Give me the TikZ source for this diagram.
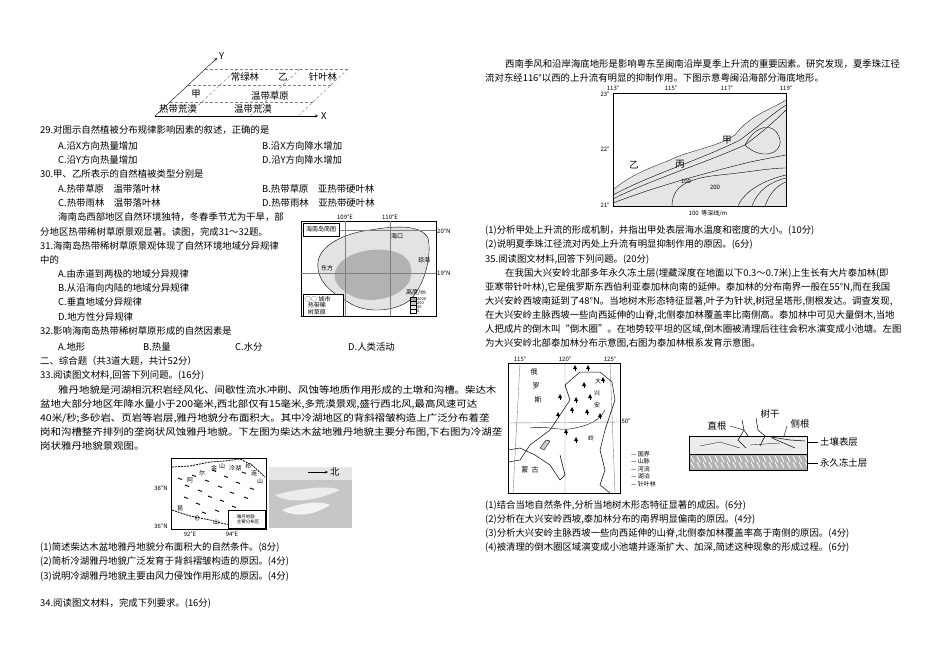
\documentclass[tikz,border=0pt]{standalone}
\usepackage{fontspec}
\usepackage{graphicx}
\setmainfont{Noto Sans CJK SC}
\newcommand{\fs}{\fontsize{9.4}{10}\selectfont}
\newcommand{\fss}{\fontsize{6}{7}\selectfont}
\newcommand{\wide}[1]{\scalebox{1.11}[1]{#1}}
\begin{document}
\begin{tikzpicture}[x=1pt,y=-1pt,
  txt/.style={anchor=west,inner sep=0,font=\fs},
  sm/.style={inner sep=0,font=\fss},
  grid/.style={densely dashed,gray,line width=0.4pt},
  frame/.style={draw,line width=0.6pt},
  cont/.style={line width=0.4pt}]
\useasboundingbox[fill=white] (0,0) rectangle (950,671);

% ---------- top grid figure ----------
\coordinate (O) at (155,116);
\coordinate (Xe) at (318,116);
\coordinate (Ye) at (217,58);
\draw[->,>=stealth] (O) -- (Xe);
\draw[->,>=stealth] (O) -- (Ye);
\node[sm,anchor=west,font=\fs] (xl) at (321,116) {X};
\node[sm,anchor=south west,font=\fs] (yl) at (219,60) {Y};
\foreach \yy in {69,85,102}{
  \pgfmathsetmacro\xs{155+(116-\yy)*1.07}
  \draw[grid] (\xs,\yy) -- ++(143,0);}
\foreach \xx in {237,300,348}{
  \draw[grid] (\xx,69) -- ++(-50,47);}
\node[sm,font=\fs] (c1) at (245,77) {常绿林};
\node[sm,font=\fs] (c2) at (283,77) {乙};
\node[sm,font=\fs] (c3) at (323,77) {针叶林};
\node[sm,font=\fs] (c4) at (196,94) {甲};
\node[sm,font=\fs] (c5) at (270,96) {温带草原};
\node[sm,font=\fs] (c6) at (178,109) {热带荒漠};
\node[sm,font=\fs] (c7) at (253,109) {温带荒漠};

% ---------- left column text ----------
\node[txt] (t1) at (40,130) {29.对图示自然植被分布规律影响因素的叙述，正确的是};
\node[txt] (t2) at (58,146) {A.沿X方向热量增加};
\node[txt] (t3) at (262,146) {B.沿X方向降水增加};
\node[txt] (t4) at (58,160) {C.沿Y方向热量增加};
\node[txt] (t5) at (262,160) {D.沿Y方向降水增加};
\node[txt] (t6) at (40,174) {30.甲、乙所表示的自然植被类型分别是};
\node[txt] (t7) at (58,189) {A.热带草原\quad 温带落叶林};
\node[txt] (t8) at (262,189) {B.热带草原\quad 亚热带硬叶林};
\node[txt] (t9) at (58,203) {C.热带雨林\quad 温带落叶林};
\node[txt] (t10) at (262,203) {D.热带雨林\quad 亚热带硬叶林};
\node[txt] (t11) at (58,217) {海南岛西部地区自然环境独特，冬春季节尤为干旱，部};
\node[txt] (t12) at (40,232) {分地区热带稀树草原景观显著。读图，完成31～32题。};
\node[txt] (t13) at (40,246) {31.海南岛热带稀树草原景观体现了自然环境地域分异规律};
\node[txt] (t14) at (40,260) {中的};
\node[txt] (t15) at (58,274) {A.由赤道到两极的地域分异规律};
\node[txt] (t16) at (58,288) {B.从沿海向内陆的地域分异规律};
\node[txt] (t17) at (58,302) {C.垂直地域分异规律};
\node[txt] (t18) at (58,317) {D.地方性分异规律};
\node[txt] (t19) at (40,331) {32.影响海南岛热带稀树草原形成的自然因素是};
\node[txt] (t20) at (58,347) {A.地形};
\node[txt] (t21) at (143,347) {B.热量};
\node[txt] (t22) at (235,347) {C.水分};
\node[txt] (t23) at (348,347) {D.人类活动};
\node[txt] (t24) at (40,361) {二、综合题（共3道大题，共计52分）};
\node[txt] (t25) at (40,375) {33.阅读图文材料,回答下列问题。(16分)};
\node[txt] (t26) at (58,390) {\wide{雅丹地貌是河湖相沉积岩经风化、间歇性流水冲刷、风蚀等地质作用形成的土墩和沟槽。柴达木}};
\node[txt] (t27) at (40,404) {\wide{盆地大部分地区年降水量小于200毫米,西北部仅有15毫米,多荒漠景观,盛行西北风,最高风速可达}};
\node[txt] (t28) at (40,418) {\wide{40米/秒;多砂岩、页岩等岩层,雅丹地貌分布面积大。其中冷湖地区的背斜褶皱构造上广泛分布着垄}};
\node[txt] (t29) at (40,432) {\wide{岗和沟槽整齐排列的垄岗状风蚀雅丹地貌。下左图为柴达木盆地雅丹地貌主要分布图,下右图为冷湖垄}};
\node[txt] (t30) at (40,446) {\wide{岗状雅丹地貌景观图。}};
\node[txt] (t31) at (40,547) {(1)简述柴达木盆地雅丹地貌分布面积大的自然条件。(8分)};
\node[txt] (t32) at (40,561) {(2)简析冷湖雅丹地貌广泛发育于背斜褶皱构造的原因。(4分)};
\node[txt] (t33) at (40,576) {(3)说明冷湖雅丹地貌主要由风力侵蚀作用形成的原因。(4分)};
\node[txt] (t34) at (40,603) {34.阅读图文材料，完成下列要求。(16分)};

% ---------- Hainan map ----------
\draw[frame] (301,221) rectangle (436,316);
\fill[gray!22] (318,262) .. controls (320,245) and (345,233) .. (370,230)
  .. controls (395,226) and (420,224) .. (428,238)
  .. controls (432,255) and (425,285) .. (410,300)
  .. controls (395,312) and (365,314) .. (348,302)
  .. controls (330,292) and (316,280) .. (318,262) -- cycle;
\draw[line width=0.4pt] (318,262) .. controls (320,245) and (345,233) .. (370,230)
  .. controls (395,226) and (420,224) .. (428,238)
  .. controls (432,255) and (425,285) .. (410,300)
  .. controls (395,312) and (365,314) .. (348,302)
  .. controls (330,292) and (316,280) .. (318,262) -- cycle;
\fill[gray!60] (335,272) .. controls (340,255) and (365,248) .. (385,250)
  .. controls (405,252) and (415,262) .. (410,280)
  .. controls (402,298) and (370,305) .. (352,296)
  .. controls (340,290) and (333,282) .. (335,272) -- cycle;
\draw[gray] (345,221) -- (345,316) (390,221) -- (390,316);
\draw[gray] (301,230) -- (436,230) (301,273) -- (436,273);
\node[sm] (h1) at (345,217) {109°E};
\node[sm] (h2) at (390,217) {110°E};
\node[sm,anchor=west] (h3) at (437,231) {20°N};
\node[sm,anchor=west] (h4) at (437,273) {19°N};
\draw[fill=white] (303,223) rectangle (339,236);
\node[sm] (h5) at (321,229.5) {海南岛简图};
\node[sm] (h6) at (397,236) {海口};
\node[sm] (h7) at (424,260) {琼海};
\node[sm] (h8) at (327,268) {东方};
\draw[fill=white] (303,294) rectangle (343,316);
\node[sm,anchor=west] (h9) at (305,299) {○○ 城市};
\node[sm,anchor=west,align=left] (h10) at (305,309) {\ \ 热带稀\\\ \ 树草原};
\node[sm] (h11) at (416,293) {高度/m};
\foreach \i/\c/\v in {0/gray!70/2000,1/gray!45/200,2/gray!20/50,3/white/0}{
  \draw[fill=\c,line width=0.3pt] (410,297+\i*4) rectangle (416,301+\i*4);
  \node[sm,anchor=west,font=\fontsize{4}{4}\selectfont] at (417,299+\i*4) {\v};}

% ---------- Yardang map ----------
\draw[frame] (171,458) rectangle (266,529);
\draw[line width=0.8pt,dash pattern=on 2pt off 1pt] (172,467) -- (190,466) -- (210,462) -- (225,461) -- (240,459) -- (252,465) -- (265,477);
\draw[line width=0.8pt,dash pattern=on 2pt off 1pt] (172,510) -- (190,516) -- (210,520) -- (225,524) -- (240,526);
\foreach \x/\y in {178/478,185/485,192/475,198/490,205/480,212/470,218/486,224/476,230/492,236/482,242/472,184/497,196/503,208/496,220/500,232/506,244/497,250/488,202/512,215/510}
  \draw[line width=0.9pt] (\x,\y) -- ++(4,1.5);
\node[sm] (y1) at (190,480) {阿};
\node[sm] (y2) at (202,473) {尔};
\node[sm] (y3) at (214,468) {金};
\node[sm] (y4) at (222,466) {山};
\node[sm] (y5) at (235,468) {冷湖};
\node[sm] (y6) at (248,466) {祁};
\node[sm] (y7) at (254,473) {连};
\node[sm] (y8) at (260,481) {山};
\node[sm] (y9) at (180,508) {昆};
\node[sm] (y10) at (197,518) {仑};
\node[sm] (y11) at (216,522) {山};
\draw[fill=white] (228,510) rectangle (265,528);
\node[sm,align=left,font=\fontsize{4.5}{5}\selectfont] (y12) at (248,519) {雅丹地貌\\主要分布区};
\node[sm] (y13) at (161,488) {38°N};
\node[sm] (y14) at (161,526) {36°N};
\node[sm] (y15) at (190,534) {92°E};
\node[sm] (y16) at (232,534) {94°E};
\fill[gray!45] (269,467) rectangle (352,528);
\fill[gray!15] (275,495) .. controls (300,488) and (330,485) .. (340,490) .. controls (320,500) and (290,505) .. (275,495);
\fill[gray!10] (282,510) .. controls (300,503) and (320,500) .. (330,505) .. controls (315,515) and (295,518) .. (282,510);
\fill[gray!20] (269,467) rectangle (352,480);
\coordinate (na) at (308,472);
\coordinate (nb) at (328,472);
\draw[->,>=stealth] (na) -- (nb);
\node[sm,font=\fs,anchor=west] (y17) at (330,472) {北};

% ---------- right column top ----------
\node[txt] (r1) at (505,64) {西南季风和沿岸海底地形是影响粤东至闽南沿岸夏季上升流的重要因素。研究发现，夏季珠江径};
\node[txt] (r2) at (485,78) {流对东经116°以西的上升流有明显的抑制作用。下图示意粤闽沿海部分海底地形。};
\fill[gray!20] (613,93) rectangle (786,206);
\fill[white] (613,93) -- (786,93) -- (786,100) .. controls (770,110) and (750,115) .. (735,135)
  .. controls (715,148) and (690,150) .. (670,160) .. controls (650,168) and (630,175) .. (613,190) -- cycle;
\draw[line width=0.3pt] (786,100) .. controls (770,110) and (750,115) .. (735,135)
  .. controls (715,148) and (690,150) .. (670,160) .. controls (650,168) and (630,175) .. (613,190);
\draw[cont] (613,195) .. controls (650,175) and (700,160) .. (740,140) .. controls (760,125) and (775,112) .. (786,105);
\draw[cont] (613,199) .. controls (650,180) and (700,165) .. (745,145) .. controls (765,130) and (778,118) .. (786,110);
\draw[cont] (613,203) .. controls (660,185) and (710,172) .. (750,162) .. controls (770,158) and (780,156) .. (786,155);
\draw[cont] (672,206) .. controls (672,185) and (690,178) .. (720,175) .. controls (750,172) and (770,168) .. (786,168);
\draw[cont] (745,145) .. controls (755,125) and (775,120) .. (780,140) .. controls (782,155) and (760,160) .. (745,145);
\draw[cont] (738,206) .. controls (745,190) and (765,180) .. (786,175);
\draw[cont] (752,206) .. controls (758,190) and (770,182) .. (786,178);
\draw[cont] (765,206) .. controls (770,192) and (778,185) .. (786,182);
\draw[frame] (613,93) rectangle (786,206);
\node[sm] (m1) at (613,88) {113°};
\node[sm] (m2) at (671,88) {115°};
\node[sm] (m3) at (727,88) {117°};
\node[sm] (m4) at (786,88) {119°};
\node[sm] (m5) at (605,94) {23°};
\node[sm] (m6) at (605,149) {22°};
\node[sm] (m7) at (605,205) {21°};
\node[sm,font=\fs] (m8) at (727,140) {甲};
\node[sm,font=\fs] (m9) at (680,164) {丙};
\node[sm,font=\fs] (m10) at (634,165) {乙};
\node[sm] (m11) at (686,181) {100};
\node[sm] (m12) at (715,187) {200};
\node[sm] (m13) at (708,214) {100\ \ 等深线/m};
\node[txt] (r3) at (485,230) {(1)分析甲处上升流的形成机制，并指出甲处表层海水温度和密度的大小。(10分)};
\node[txt] (r4) at (485,244) {(2)说明夏季珠江径流对丙处上升流有明显抑制作用的原因。(6分)};
\node[txt] (r5) at (485,259) {35.阅读图文材料,回答下列问题。(20分)};
\node[txt] (r6) at (505,273) {在我国大兴安岭北部多年永久冻土层(埋藏深度在地面以下0.3～0.7米)上生长有大片泰加林(即};
\node[txt] (r7) at (485,287) {亚寒带针叶林),它是俄罗斯东西伯利亚泰加林向南的延伸。泰加林的分布南界一般在55°N,而在我国};
\node[txt] (r8) at (485,301) {大兴安岭西坡南延到了48°N。当地树木形态特征显著,叶子为针状,树冠呈塔形,侧根发达。调查发现,};
\node[txt] (r9) at (485,315) {在大兴安岭主脉西坡一些向西延伸的山脊,北侧泰加林覆盖率比南侧高。泰加林中可见大量倒木,当地};
\node[txt] (r10) at (485,329) {人把成片的倒木叫“倒木圈”。在地势较平坦的区域,倒木圈被清理后往往会积水演变成小池塘。左图};
\node[txt] (r11) at (485,343) {为大兴安岭北部泰加林分布示意图,右图为泰加林根系发育示意图。};

% ---------- Daxinganling map ----------
\draw[frame] (508,363) rectangle (620,493);
\draw[gray] (520,363) -- (513,493) (565,363) -- (565,493) (610,363) -- (615,493) (508,423) -- (620,422);
\draw[line width=0.5pt] (565,385) -- (580,372) -- (600,372) -- (612,382) -- (615,400);
\draw[line width=0.5pt] (565,385) -- (570,400) -- (560,415) -- (550,430) -- (530,445) -- (520,460) -- (508,462);
\draw[line width=0.5pt] (508,450) -- (520,448) -- (535,455) -- (550,465) -- (560,480) -- (565,475) -- (560,455);
\draw[line width=0.5pt] (615,400) -- (605,430) -- (600,450) -- (605,470) -- (600,485) -- (610,493);
\draw[line width=0.4pt] (530,428) .. controls (545,425) and (560,432) .. (575,428) .. controls (590,425) and (600,420) .. (605,410);
\draw[fill=gray!40] (540,448) -- (546,440) -- (550,441) -- (544,450) -- cycle;
\foreach \x/\y in {575/368,588/368,584/385,603/380,576/400,590/397,587/412,572/410,558/415,566/432,576/440,600/416,560/397}{
  \fill (\x,\y-3) -- (\x-2,\y+1) -- (\x+2,\y+1) -- cycle;
  \draw[line width=0.5pt] (\x,\y+1) -- (\x,\y+3);}
\node[sm,font=\fontsize{7}{7}\selectfont] (d1) at (534,372) {俄};
\node[sm,font=\fontsize{7}{7}\selectfont] (d2) at (536,386) {罗};
\node[sm,font=\fontsize{7}{7}\selectfont] (d3) at (538,400) {斯};
\node[sm,font=\fontsize{7}{7}\selectfont] (d4) at (530,470) {蒙\ \ 古};
\node[sm] (d5) at (598,381) {大};
\node[sm] (d6) at (597,393) {兴};
\node[sm] (d7) at (597,405) {安};
\node[sm] (d8) at (591,438) {岭};
\node[sm] (d9) at (520,359) {115°};
\node[sm] (d10) at (565,359) {120°};
\node[sm] (d11) at (610,359) {125°};
\node[sm] (d12) at (626,421) {50°};
\foreach \i/\t in {0/国界,1/山脉,2/河流,3/湖泊,4/针叶林}{
  \node[sm,anchor=west] at (631,454+\i*7.5) {— \t};}

% ---------- root diagram ----------
\fill[gray!15] (689,436) rectangle (807,454);
\fill[gray!60] (689,454) rectangle (807,470);
\foreach \x in {691,697,...,805}{
  \draw[white,line width=0.8pt] (\x,456) -- (\x+3,462) (\x,462) -- (\x+3,468);}
\draw[frame] (689,436) rectangle (807,470);
\draw (689,454) -- (807,454);
\draw[line width=0.5pt] (742,420) -- (744,430) -- (738,440) -- (746,448) (744,430) -- (748,436);
\draw[line width=0.5pt] (756,418) -- (758,430) -- (765,436) -- (790,440) -- (805,441) (765,436) -- (760,446) (772,438) -- (795,448);
\draw[line width=0.3pt] (700,446) -- (720,442) -- (740,448) (750,445) -- (780,443);
\node[sm,font=\fs] (g1) at (717,426) {直根};
\node[sm,font=\fs] (g2) at (770,414) {树干};
\node[sm,font=\fs] (g3) at (800,424) {侧根};
\node[sm,font=\fs,anchor=west] (g4) at (820,442) {土壤表层};
\node[sm,font=\fs,anchor=west] (g5) at (820,463) {永久冻土层};
\draw (730,426) -- (744,430);
\draw (807,442) -- (818,442) (807,463) -- (818,463);
\draw (787,426) -- (784,436);

\node[txt] (q1) at (485,505) {(1)结合当地自然条件,分析当地树木形态特征显著的成因。(6分)};
\node[txt] (q2) at (485,519) {(2)分析在大兴安岭西坡,泰加林分布的南界明显偏南的原因。(4分)};
\node[txt] (q3) at (485,533) {(3)分析大兴安岭主脉西坡一些向西延伸的山脊,北侧泰加林覆盖率高于南侧的原因。(4分)};
\node[txt] (q4) at (485,547) {(4)被清理的倒木圈区域演变成小池塘并逐渐扩大、加深,简述这种现象的形成过程。(6分)};
\end{tikzpicture}
\end{document}
